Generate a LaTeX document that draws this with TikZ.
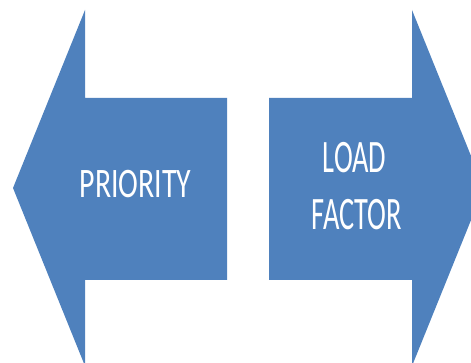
\documentclass[tikz,border=0pt]{standalone}
\usepackage{fontspec}
\setmainfont{Carlito}
\definecolor{arrowblue}{RGB}{79,129,189}
\begin{document}
\begin{tikzpicture}[x=1pt,y=-1pt,
  arrowshape/.style={fill=arrowblue,draw=none},
  label/.style={text=white,inner sep=0pt,anchor=base,font=\fontsize{42}{57}\selectfont},
  biglabel/.style={label,font=\fontsize{46.5}{57}\selectfont}]
\useasboundingbox (0,0) rectangle (471,363);
\clip (0,0) rectangle (471,363);
% left-pointing arrow
\fill[arrowshape] (13,188) -- (85,10) -- (85,98) -- (227,98) -- (227,280)
  -- (85,280) -- (85,366) -- cycle;
% right-pointing arrow
\fill[arrowshape] (269,98) -- (412,98) -- (412,10) -- (484,188) -- (412,366)
  -- (412,280) -- (269,280) -- cycle;
\node[label] (prio) at (135.5,198) {\scalebox{0.71}[1]{PRIORITY}};
\node[biglabel] (load) at (354.5,173) {\scalebox{0.61}[1]{LOAD}};
\node[biglabel] (factor) at (357,230) {\scalebox{0.61}[1]{FACTOR}};
\end{tikzpicture}
\end{document}
